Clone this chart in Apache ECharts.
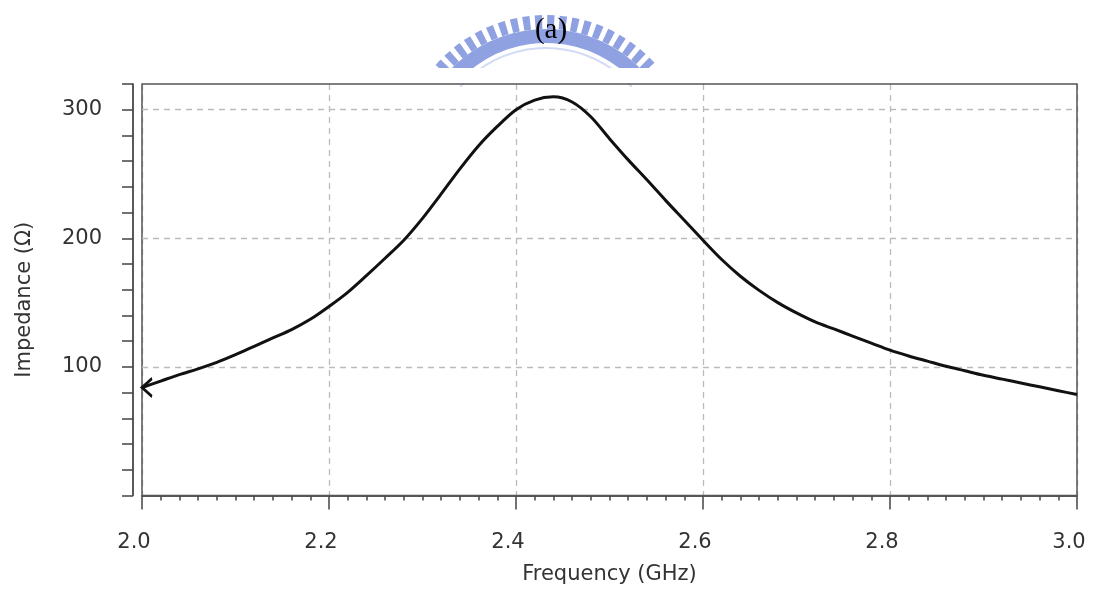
<!DOCTYPE html>
<html>
<head>
<meta charset="utf-8">
<script src="https://cdn.jsdelivr.net/npm/echarts@6/dist/echarts.min.js"></script>
<style>html,body{margin:0;padding:0;background:#fff}#c{width:1093px;height:595px}</style>
</head>
<body>
<div id="c"></div>
<script>
const titleText = '(a)';
const xName = 'Frequency (GHz)';
const yName = 'Impedance (\u03A9)';
const freq = [2.00, 2.02, 2.04, 2.06, 2.08, 2.10, 2.12, 2.14, 2.16, 2.18,
              2.20, 2.22, 2.24, 2.26, 2.28, 2.30, 2.32, 2.34, 2.36, 2.38,
              2.40, 2.42, 2.44, 2.46, 2.48, 2.50, 2.52, 2.54, 2.56, 2.58,
              2.60, 2.62, 2.64, 2.66, 2.68, 2.70, 2.72, 2.74, 2.76, 2.78,
              2.80, 2.82, 2.84, 2.86, 2.88, 2.90, 2.92, 2.94, 2.96, 2.98, 3.00];
const imped = [84, 89, 94, 98.5, 103.5, 109.5, 116, 122.5, 129, 137,
               147, 158, 171, 184.5, 198.5, 215.5, 234.5, 254, 272, 287,
               300, 307.5, 310, 306, 294.5, 277.5, 261, 245.5, 229.5, 214,
               198.5, 183.5, 170.5, 159.5, 150, 142, 135, 129.5, 124, 118.5,
               113, 108.5, 104.5, 100.5, 97, 93.5, 90.5, 87.5, 84.5, 81.5, 78.5];
const yGridValues = [100, 200, 300];

const data = freq.map((f, i) => {
  const item = { value: [f, imped[i]] };
  if (i === 0) {
    item.symbol = 'path://M10,0 L0,10 L10,20';
    item.symbolSize = [10, 18];
    item.symbolOffset = ['50%', 0];
    item.itemStyle = { color: 'rgba(0,0,0,0)', borderColor: '#111', borderWidth: 2.5 };
  }
  return item;
});

const chart = echarts.init(document.getElementById('c'), null, { renderer: 'canvas' });
const font = 'DejaVu Sans';
const cx = 546, cy = 162;
const wm = '#8fa1e0';
chart.setOption({
  animation: false,
  backgroundColor: '#fff',
  graphic: [
    { type: 'sector', z: 0, shape: { cx: cx, cy: cy, r0: 119, r: 133, startAngle: -2.42, endAngle: -0.72 }, style: { fill: wm } },
    { type: 'arc', z: 0, shape: { cx: cx, cy: cy, r: 140, startAngle: -2.42, endAngle: -0.72 }, style: { stroke: wm, lineWidth: 14, fill: null, lineDash: [7, 5] } },
    { type: 'arc', z: 0, shape: { cx: cx, cy: cy, r: 114, startAngle: -2.42, endAngle: -0.72 }, style: { stroke: '#d3dbf4', lineWidth: 2, fill: null } },
    { type: 'rect', z: 1, shape: { x: 400, y: 68, width: 300, height: 15 }, style: { fill: '#fff' } },
    { type: 'text', z: 10, x: 551, y: 30,
      style: { text: titleText, fontSize: 29, fontFamily: 'Liberation Serif', fontWeight: 'normal', fill: '#000', align: 'center', verticalAlign: 'middle' } }
  ],
  grid: { left: 142, right: 16, top: 84, bottom: 99.5, show: true, borderColor: '#555', borderWidth: 1.5, backgroundColor: 'rgba(0,0,0,0)', z: 3 },
  xAxis: {
    type: 'value', min: 2, max: 3, interval: 0.2, offset: 7,
    name: xName, nameLocation: 'middle', nameGap: 62,
    nameTextStyle: { fontFamily: font, fontSize: 21, color: '#333' },
    axisLine: { show: true, lineStyle: { color: '#222', width: 1.5 } },
    axisTick: { show: true, length: 14, lineStyle: { color: '#444', width: 1.5 } },
    minorTick: { show: true, splitNumber: 10, length: 5, lineStyle: { color: '#444', width: 1.5 } },
    axisLabel: { fontFamily: font, fontSize: 21, color: '#333', margin: 30, padding: [0, 16, 0, 0], formatter: v => v.toFixed(1) },
    splitLine: { show: true, lineStyle: { color: '#bbb', type: [6, 5], width: 1.3 } }
  },
  yAxis: {
    type: 'value', min: 0, max: 320, interval: 20, offset: 9,
    name: yName, nameLocation: 'middle', nameGap: 98, nameRotate: 90,
    nameTextStyle: { fontFamily: font, fontSize: 21, color: '#333', padding: [0, 0, 0, -20] },
    axisLine: { show: true, lineStyle: { color: '#222', width: 1.5 } },
    axisTick: { show: true, length: 11, lineStyle: { color: '#444', width: 1.5 } },
    axisLabel: { fontFamily: font, fontSize: 21, color: '#333', margin: 31,
      formatter: v => (v > 0 && v % 100 === 0) ? String(v) : '' },
    splitLine: { show: false }
  },
  series: [{
    type: 'line', data: data, smooth: 0.3, symbol: 'none', showSymbol: true,
    lineStyle: { color: '#111', width: 3 }, z: 5,
    markLine: {
      silent: true, symbol: 'none', label: { show: false },
      lineStyle: { color: '#bbb', type: [6, 5], width: 1.3 },
      data: yGridValues.map(v => ({ yAxis: v }))
    }
  }]
});
</script>
</body>
</html>
